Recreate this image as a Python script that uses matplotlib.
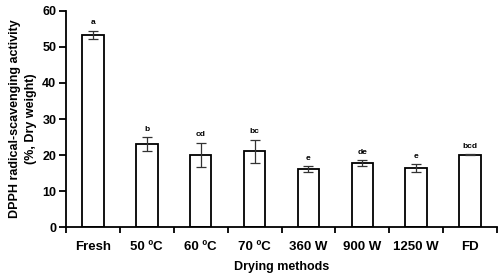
import numpy as np
import matplotlib.pyplot as plt

# ---------- Data ---------- #
methods = ['Fresh', '50 ºC', '60 ºC', '70 ºC', '360 W', '900 W', '1250 W', 'FD']
dpph = [53.4, 23.0, 20.0, 21.0, 16.2, 17.8, 16.4, 20.1]
sd = [1.1, 2.0, 3.4, 3.3, 0.8, 0.75, 1.1, 0.2]
letters = ['a', 'b', 'cd', 'bc', 'e', 'de', 'e', 'bcd']

plt.rcParams['font.family'] = ['Liberation Sans', 'DejaVu Sans']
plt.rcParams['font.weight'] = 'bold'

fig = plt.figure(figsize=(5, 2.8), dpi=100)
ax = fig.add_axes([0.132, 0.189, 0.862, 0.772])

x = np.arange(len(methods))
ax.bar(x, dpph, width=0.4, color='white', edgecolor='black', linewidth=1.3, zorder=2)
ax.errorbar(x, dpph, yerr=sd, fmt='none', ecolor='#333333', elinewidth=0.9,
            capsize=3.5, capthick=0.9, zorder=3)

# significance letters above each error bar
for xi, v, e, lab in zip(x, dpph, sd, letters):
    ax.text(xi, v + e + 1.2, lab, ha='center', va='bottom', fontsize=6, fontweight='bold')

ax.set_xlim(-0.5, len(methods) - 0.5)
ax.set_ylim(0, 60)
ax.set_yticks(np.arange(0, 61, 10))
ax.set_xticks(x)
ax.set_xticklabels(methods)
ax.set_xticks(np.arange(-0.5, len(methods)), minor=True)
ax.tick_params(axis='x', which='major', length=0, pad=10, labelsize=9.5)
ax.tick_params(axis='x', which='minor', length=4, width=1.3, direction='out')
ax.tick_params(axis='y', length=5, width=1.3, pad=2, labelsize=9)

for s in ['top', 'right']:
    ax.spines[s].set_visible(False)
for s in ['left', 'bottom']:
    ax.spines[s].set_linewidth(1.3)

ax.set_xlabel('Drying methods', fontsize=9, fontweight='bold', labelpad=6)
ax.set_ylabel('DPPH radical-scavenging activity\n(%, Dry weight)', fontsize=9,
              fontweight='bold', labelpad=4, linespacing=1.35)

fig.savefig('out.png', dpi=100)
